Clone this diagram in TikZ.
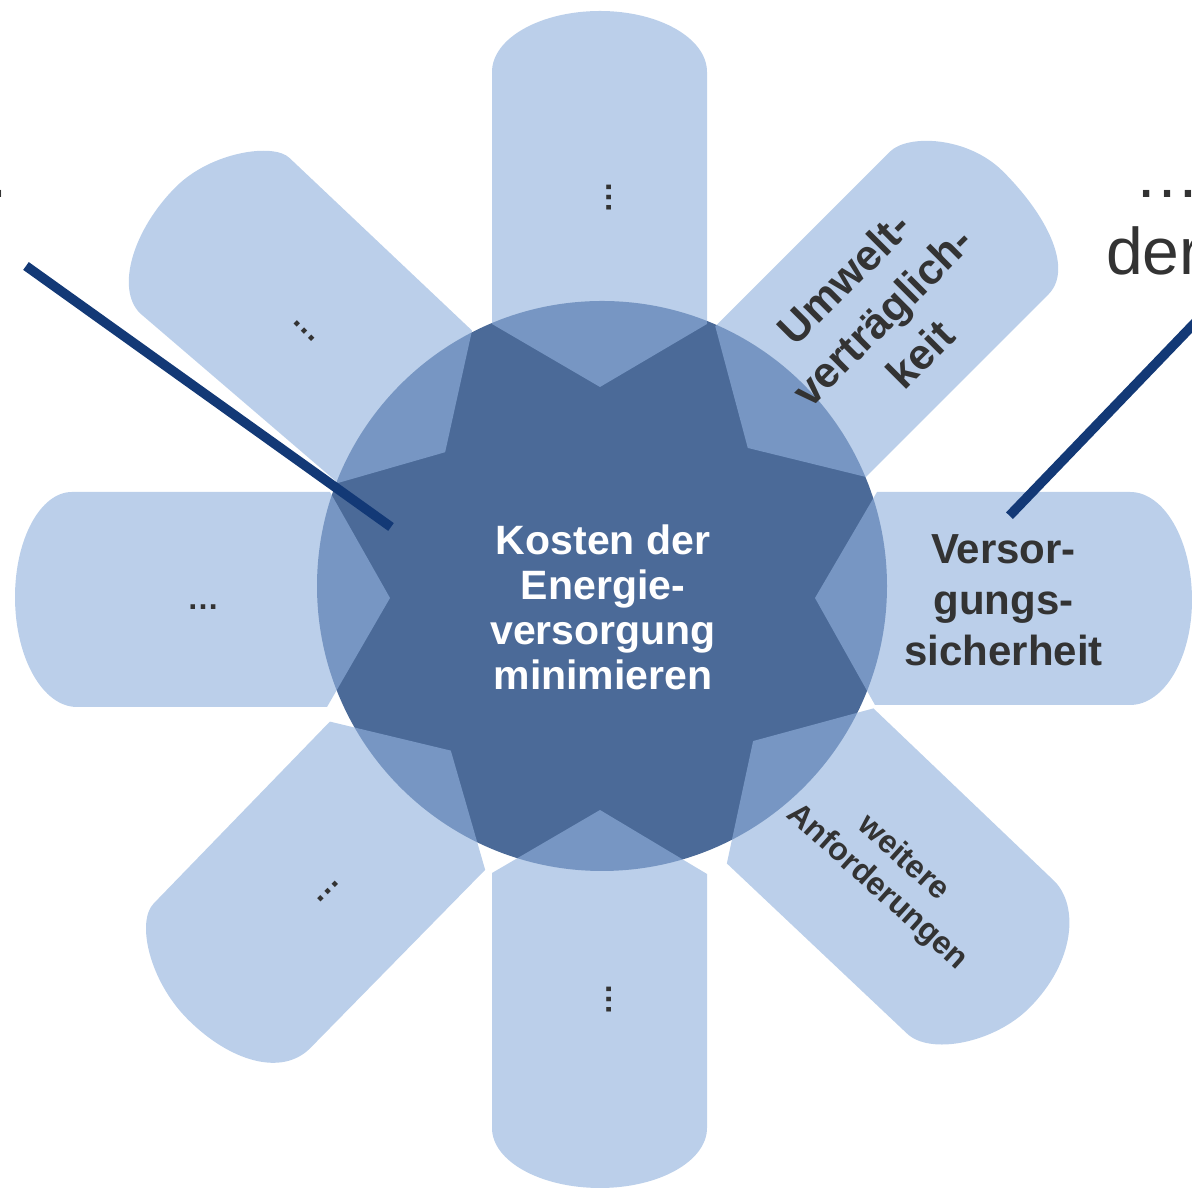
\documentclass[tikz,border=0pt]{standalone}
\usepackage{fontspec}
\setmainfont{Liberation Sans}
\definecolor{hubdark}{RGB}{75,106,152}
\definecolor{petalblue}{RGB}{146,178,221}
\definecolor{leaderblue}{RGB}{19,57,118}
\definecolor{inkgray}{RGB}{51,51,51}
\begin{document}
\begin{tikzpicture}[x=1pt,y=1pt,
  petal/.style={fill=petalblue, fill opacity=0.625},
  leader/.style={draw=leaderblue, line width=9.6pt},
  hubtext/.style={text=white, font=\bfseries\fontsize{41}{45}\selectfont, align=center, inner sep=0pt},
  petaltext/.style={text=inkgray, font=\bfseries\fontsize{42}{51}\selectfont, align=center, inner sep=0pt},
  smalltext/.style={text=inkgray, font=\bfseries\fontsize{32}{39}\selectfont, align=center, inner sep=0pt},
  dotstext/.style={text=inkgray, font=\bfseries\fontsize{32}{37}\selectfont, inner sep=0pt, anchor=base},
  sidetext/.style={text=inkgray, font=\fontsize{66}{76}\selectfont, inner sep=0pt},
]
\useasboundingbox (0,0) rectangle (1192,1190);

% central hub
\node[circle, fill=hubdark, minimum size=570pt, inner sep=0pt] (hub) at (602,604) {};

% eight petals, each drawn in its own frame: u outward, v to the left
\begin{scope}[shift={(600,590)}, rotate=0]   % right
  \fill[petal] (215,2) -- (277,108) -- (530,108)
    .. controls (564.2,108) and (592,59.6) .. (592,0)
    .. controls (592,-58) and (564.2,-105) .. (530,-105)
    -- (275,-105) -- cycle;
\end{scope}
\begin{scope}[shift={(600,590)}, rotate=45]  % upper right
  \fill[petal] (212,3) -- (275,112) -- (522,112)
    .. controls (547,112) and (588,68) .. (588,18)
    .. controls (588,-47) and (568,-101) .. (533,-101)
    -- (275,-101) -- cycle;
\end{scope}
\begin{scope}[shift={(600,590)}, rotate=90]  % top
  \fill[petal] (213,0) -- (276,108) -- (528,108)
    .. controls (561.7,108) and (589,59.6) .. (589,0)
    .. controls (589,-59.1) and (561.7,-107) .. (528,-107)
    -- (276,-107) -- cycle;
\end{scope}
\begin{scope}[shift={(600,590)}, rotate=135] % upper left
  \fill[petal] (214,5) -- (281,-100) -- (532,-93)
    .. controls (554,-93) and (592,-42) .. (592,8)
    .. controls (592,68) and (563,122.5) .. (528,122.5)
    -- (268,102.5) -- cycle;
\end{scope}
\begin{scope}[shift={(600,590)}, rotate=180] % left
  \fill[petal] (210,-2) -- (270,-108) -- (528,-108)
    .. controls (559.5,-108) and (585,-61) .. (585,-3)
    .. controls (585,57.8) and (557.2,107) .. (523,107)
    -- (273,107) -- cycle;
\end{scope}
\begin{scope}[shift={(600,590)}, rotate=225] % lower left
  \fill[petal] (212,1) -- (277,-105) -- (530,-101)
    .. controls (555,-101) and (588,-50) .. (588,5)
    .. controls (588,65) and (562,112) .. (522,112)
    -- (272,109.6) -- cycle;
\end{scope}
\begin{scope}[shift={(600,590)}, rotate=270] % bottom
  \fill[petal] (210,0) -- (273,-108) -- (528,-108)
    .. controls (561.1,-108) and (588,-59.6) .. (588,0)
    .. controls (588,59.1) and (561.1,107) .. (528,107)
    -- (274,107) -- cycle;
\end{scope}
\begin{scope}[shift={(600,590)}, rotate=315] % lower right
  \fill[petal] (208,8.5) -- (270,116.7) -- (520,122.5)
    .. controls (555,122.5) and (592,80) .. (592,15)
    .. controls (592,-35) and (555,-89.5) .. (523,-89.5)
    -- (276,-96.6) -- cycle;
\end{scope}

% labels
\node[hubtext] (goal) at (603,583) {Kosten der\\Energie-\\versorgung\\minimieren};
\node[petaltext] (supply) at (1003.5,590) {Versor-\\gungs-\\sicherheit};
\node[petaltext, font=\bfseries\fontsize{43}{54}\selectfont, rotate=45] (environment) at (882,874) {Umwelt-\\verträglich-\\keit};
\node[smalltext, rotate=-42] (further) at (890,317) {weitere\\Anforderungen};
\node[dotstext, rotate=90] (dotsN) at (611,992) {…};
\node[dotstext, rotate=-45] (dotsNW) at (302.5,857.5) {…};
\node[dotstext] (dotsW) at (203,580) {…};
\node[dotstext, rotate=45] (dotsSW) at (329.5,296.5) {…};
\node[dotstext, rotate=90] (dotsS) at (611,190) {…};

% side captions running off the page
\node[sidetext, anchor=base east] (captionL) at (11,992) {…};
\node[sidetext, anchor=base west] (captionR1) at (1134,992) {…};
\node[sidetext, anchor=base west] (captionR2) at (1106,915) {der};

% leader lines
\coordinate (leadL-start) at (26,924);
\coordinate (leadL-end) at (391,663);
\coordinate (leadR-start) at (1009.5,674.3);
\coordinate (leadR-end) at (1240,914);
\draw[leader] (leadL-start) -- (leadL-end);
\draw[leader] (leadR-start) -- (leadR-end);
\end{tikzpicture}
\end{document}
